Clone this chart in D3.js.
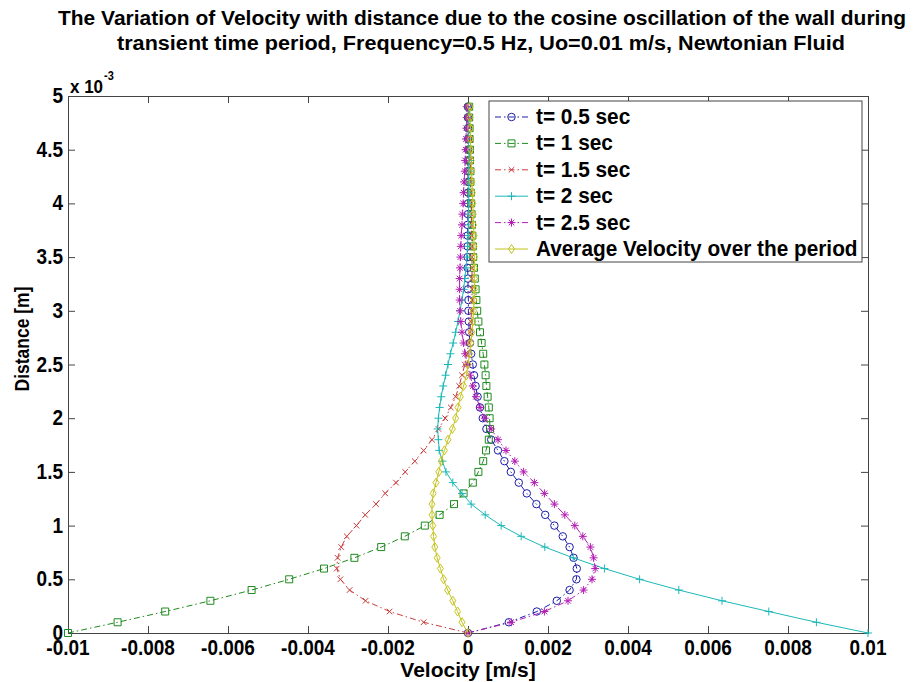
<!DOCTYPE html>
<html>
<head>
    <meta charset="utf-8" />
    <title>velocity profile</title>
    <script src="https://d3js.org/d3.v7.min.js"></script>
    <style>
        body { margin: 0; background: #fff; }
        text { font-family: Arial, "Liberation Sans", sans-serif; font-weight: bold; fill: #000; }
    </style>
</head>
<body>
    <svg class="chart"></svg>
    <script>
        // distance from the wall, in units of 1e-3 m
        var distance = [0, 0.1, 0.2, 0.3, 0.4, 0.5, 0.6, 0.7, 0.8, 0.9,
                        1.0, 1.1, 1.2, 1.3, 1.4, 1.5, 1.6, 1.7, 1.8, 1.9,
                        2.0, 2.1, 2.2, 2.3, 2.4, 2.5, 2.6, 2.7, 2.8, 2.9,
                        3.0, 3.1, 3.2, 3.3, 3.4, 3.5, 3.6, 3.7, 3.8, 3.9,
                        4.0, 4.1, 4.2, 4.3, 4.4, 4.5, 4.6, 4.7, 4.8, 4.9];

        // velocities, in units of 1e-3 m/s
        var vel05 = [0, 1.02, 1.72, 2.22, 2.54, 2.71, 2.72, 2.64, 2.54, 2.37,
                     2.16, 1.93, 1.71, 1.47, 1.27, 1.07, 0.91, 0.75, 0.58, 0.46,
                     0.37, 0.30, 0.24, 0.19, 0.15, 0.12, 0.08, 0.05, 0.03, 0.02,
                     0.01, 0.01, 0, 0, -0.01, -0.01, -0.01, -0.01, -0.01, 0,
                     0, 0, 0, 0, 0, 0, 0, 0, 0, 0];
        var vel1 = [-10.0, -8.76, -7.57, -6.44, -5.41, -4.47, -3.60, -2.84, -2.17, -1.58,
                    -1.08, -0.71, -0.35, -0.11, 0.12, 0.26, 0.38, 0.45, 0.52, 0.55,
                    0.54, 0.52, 0.49, 0.46, 0.44, 0.41, 0.38, 0.34, 0.30, 0.26,
                    0.23, 0.21, 0.19, 0.17, 0.15, 0.13, 0.12, 0.11, 0.10, 0.09,
                    0.08, 0.07, 0.06, 0.06, 0.05, 0.05, 0.04, 0.04, 0.03, 0.03];
        var vel15 = [0, -1.11, -1.96, -2.56, -2.96, -3.19, -3.28, -3.26, -3.17, -3.03,
                     -2.79, -2.57, -2.30, -2.07, -1.80, -1.57, -1.33, -1.11, -0.90, -0.74,
                     -0.57, -0.43, -0.31, -0.22, -0.15, -0.08, -0.03, 0.02, 0.05, 0.07,
                     0.09, 0.10, 0.10, 0.10, 0.10, 0.10, 0.10, 0.09, 0.09, 0.08,
                     0.08, 0.07, 0.07, 0.06, 0.06, 0.05, 0.05, 0.04, 0.04, 0.03];
        var vel2 = [10.0, 8.71, 7.52, 6.35, 5.27, 4.29, 3.41, 2.63, 1.92, 1.33,
                    0.83, 0.43, 0.08, -0.15, -0.38, -0.55, -0.64, -0.72, -0.74, -0.76,
                    -0.74, -0.71, -0.67, -0.62, -0.56, -0.50, -0.44, -0.37, -0.31, -0.25,
                    -0.20, -0.15, -0.11, -0.08, -0.05, -0.03, -0.01, 0, 0.01, 0.01,
                    0.02, 0.02, 0.02, 0.02, 0.02, 0.02, 0.01, 0.01, 0.01, 0.01];
        var vel25 = [0, 1.08, 1.91, 2.50, 2.89, 3.10, 3.18, 3.14, 3.06, 2.87,
                     2.67, 2.42, 2.16, 1.91, 1.66, 1.39, 1.17, 0.95, 0.75, 0.58,
                     0.42, 0.30, 0.20, 0.12, 0.05, -0.02, -0.07, -0.11, -0.15, -0.18,
                     -0.20, -0.21, -0.21, -0.21, -0.20, -0.19, -0.18, -0.17, -0.15, -0.14,
                     -0.12, -0.11, -0.10, -0.08, -0.07, -0.06, -0.05, -0.04, -0.03, -0.03];
        var velAvg = [0, -0.15, -0.26, -0.38, -0.51, -0.61, -0.69, -0.77, -0.83, -0.86,
                      -0.88, -0.90, -0.90, -0.87, -0.80, -0.73, -0.67, -0.59, -0.50, -0.39,
                      -0.31, -0.25, -0.19, -0.11, -0.04, 0, 0.04, 0.07, 0.10, 0.12,
                      0.14, 0.15, 0.16, 0.16, 0.16, 0.16, 0.15, 0.15, 0.14, 0.13,
                      0.12, 0.11, 0.10, 0.09, 0.08, 0.07, 0.06, 0.06, 0.05, 0.05];

        var seriesNames = ["t= 0.5 sec", "t= 1 sec", "t= 1.5 sec", "t= 2 sec", "t= 2.5 sec", "Average Velocity over the period"];
        var seriesValues = [vel05, vel1, vel15, vel2, vel25, velAvg];

        var xTicks = [-10, -8, -6, -4, -2, 0, 2, 4, 6, 8, 10];
        var xTickLabels = ["-0.01", "-0.008", "-0.006", "-0.004", "-0.002", "0", "0.002", "0.004", "0.006", "0.008", "0.01"];
        var yTicks = [0, 0.5, 1, 1.5, 2, 2.5, 3, 3.5, 4, 4.5, 5];
        var yTickLabels = ["0", "0.5", "1", "1.5", "2", "2.5", "3", "3.5", "4", "4.5", "5"];

        var styles = [
            {color: "#1c1ca8", dash: "6,3,1.5,3", marker: "circle"},
            {color: "#1f8a1f", dash: "6,3,1.5,3", marker: "square"},
            {color: "#c83c3c", dash: "6,3,1.5,3", marker: "x"},
            {color: "#1cb8b8", dash: null, marker: "plus"},
            {color: "#b31cb3", dash: "6,3,1.5,3", marker: "star"},
            {color: "#c4c41c", dash: null, marker: "diamond"}
        ];

        var svgWidth = 917, svgHeight = 682;
        var margin = {top: 96, right: 49, bottom: 49, left: 68};
        var width = svgWidth - margin.left - margin.right;
        var height = svgHeight - margin.top - margin.bottom;

        var svg = d3.select(".chart")
                    .attr("width", svgWidth)
                    .attr("height", svgHeight);

        var chart = svg.append("g")
                       .attr("transform", "translate(" + margin.left + "," + margin.top + ")");

        var xScale = d3.scaleLinear().domain([-10, 10]).range([0, width]);
        var yScale = d3.scaleLinear().domain([0, 5]).range([height, 0]);

        var axisColor = "#444";

        // box + ticks on all four sides, pointing inward
        var xAxisBottom = d3.axisBottom(xScale).tickValues(xTicks).tickSizeInner(-7).tickSizeOuter(0).tickFormat("");
        var xAxisTop = d3.axisTop(xScale).tickValues(xTicks).tickSizeInner(-7).tickSizeOuter(0).tickFormat("");
        var yAxisLeft = d3.axisLeft(yScale).tickValues(yTicks).tickSizeInner(-7).tickSizeOuter(0).tickFormat("");
        var yAxisRight = d3.axisRight(yScale).tickValues(yTicks).tickSizeInner(-7).tickSizeOuter(0).tickFormat("");

        chart.append("g").attr("transform", "translate(0," + height + ")").call(xAxisBottom);
        chart.append("g").call(xAxisTop);
        chart.append("g").call(yAxisLeft);
        chart.append("g").attr("transform", "translate(" + width + ",0)").call(yAxisRight);

        chart.selectAll(".domain").attr("stroke", axisColor);
        chart.selectAll(".tick line").attr("stroke", axisColor);

        // tick labels: tall, narrow bold lettering as in the original
        chart.selectAll(".xlab")
             .data(xTicks).enter().append("text")
                .attr("text-anchor", "middle")
                .attr("transform", d => "translate(" + xScale(d) + "," + (height + 22) + ") scale(1,1.15)")
                .style("font-size", "19px")
                .text((d, i) => xTickLabels[i]);
        chart.selectAll(".ylab")
             .data(yTicks).enter().append("text")
                .attr("text-anchor", "end")
                .attr("transform", d => "translate(-5," + (yScale(d) + 7) + ") scale(1,1.15)")
                .style("font-size", "19px")
                .text((d, i) => yTickLabels[i]);

        function markerPath(type) {
            if (type === "circle") return d3.symbol(d3.symbolCircle, 44)();
            if (type === "square") return "M-3.5,-3.5H3.5V3.5H-3.5Z";
            if (type === "x") return "M-2.8,-2.8L2.8,2.8M-2.8,2.8L2.8,-2.8";
            if (type === "plus") return "M-4,0H4M0,-4V4";
            if (type === "star") return "M-4,0H4M0,-4V4M-2.8,-2.8L2.8,2.8M-2.8,2.8L2.8,-2.8";
            if (type === "diamond") return "M0,-4.5L3,0L0,4.5L-3,0Z";
        }

        var line = d3.line()
                     .x(d => xScale(d.v))
                     .y(d => yScale(d.y));

        seriesValues.forEach(function (vals, k) {
            var pts = vals.map((v, i) => ({v: v, y: distance[i]}));
            var st = styles[k];
            var g = chart.append("g");
            g.append("path")
             .datum(pts)
             .attr("d", line)
             .attr("fill", "none")
             .attr("stroke", st.color)
             .attr("stroke-width", 1)
             .attr("stroke-dasharray", st.dash);
            g.selectAll(".mk")
             .data(pts).enter().append("path")
                .attr("transform", d => "translate(" + xScale(d.v) + "," + yScale(d.y) + ")")
                .attr("d", markerPath(st.marker))
                .attr("fill", "none")
                .attr("stroke", st.color)
                .attr("stroke-width", 1);
        });

        // legend
        var legend = chart.append("g").attr("transform", "translate(" + (489 - margin.left) + "," + (101 - margin.top) + ")");
        legend.append("rect")
              .attr("width", 373).attr("height", 161)
              .attr("fill", "#fff").attr("stroke", axisColor);
        seriesNames.forEach(function (name, k) {
            var st = styles[k];
            var yy = 16 + k * 26.4;
            legend.append("line")
                  .attr("x1", 6).attr("x2", 39).attr("y1", yy).attr("y2", yy)
                  .attr("stroke", st.color).attr("stroke-width", 1)
                  .attr("stroke-dasharray", st.dash);
            legend.append("path")
                  .attr("transform", "translate(22.5," + yy + ")")
                  .attr("d", markerPath(st.marker))
                  .attr("fill", "none").attr("stroke", st.color);
            legend.append("text")
                  .attr("transform", "translate(47," + (yy + 7) + ") scale(1,1.05)")
                  .style("font-size", "20.8px")
                  .text(name);
        });

        // title
        svg.append("text").attr("transform", "translate(482,25) scale(1,1.12)").attr("text-anchor", "middle")
           .style("font-size", "18px")
           .attr("textLength", 848).attr("lengthAdjust", "spacingAndGlyphs")
           .text("The Variation of Velocity with distance due to the cosine oscillation of the wall during");
        svg.append("text").attr("transform", "translate(481,50) scale(1,1.12)").attr("text-anchor", "middle")
           .style("font-size", "18px")
           .attr("textLength", 728).attr("lengthAdjust", "spacingAndGlyphs")
           .text("transient time period, Frequency=0.5 Hz, Uo=0.01 m/s, Newtonian Fluid");

        // exponent of the y axis
        var ex = svg.append("text").attr("transform", "translate(70,93) scale(1,1.1)").style("font-size", "17px");
        ex.append("tspan").text("x 10");
        ex.append("tspan").attr("dy", -12).attr("dx", 1).style("font-size", "11px").text("-3");

        // axis labels
        svg.append("text").attr("x", 468).attr("y", 677).attr("text-anchor", "middle")
           .style("font-size", "21px").text("Velocity [m/s]");
        svg.append("text").attr("transform", "translate(29,339) rotate(-90) scale(1,1.2)").attr("text-anchor", "middle")
           .style("font-size", "17.5px").text("Distance [m]");
    </script>
</body>
</html>
